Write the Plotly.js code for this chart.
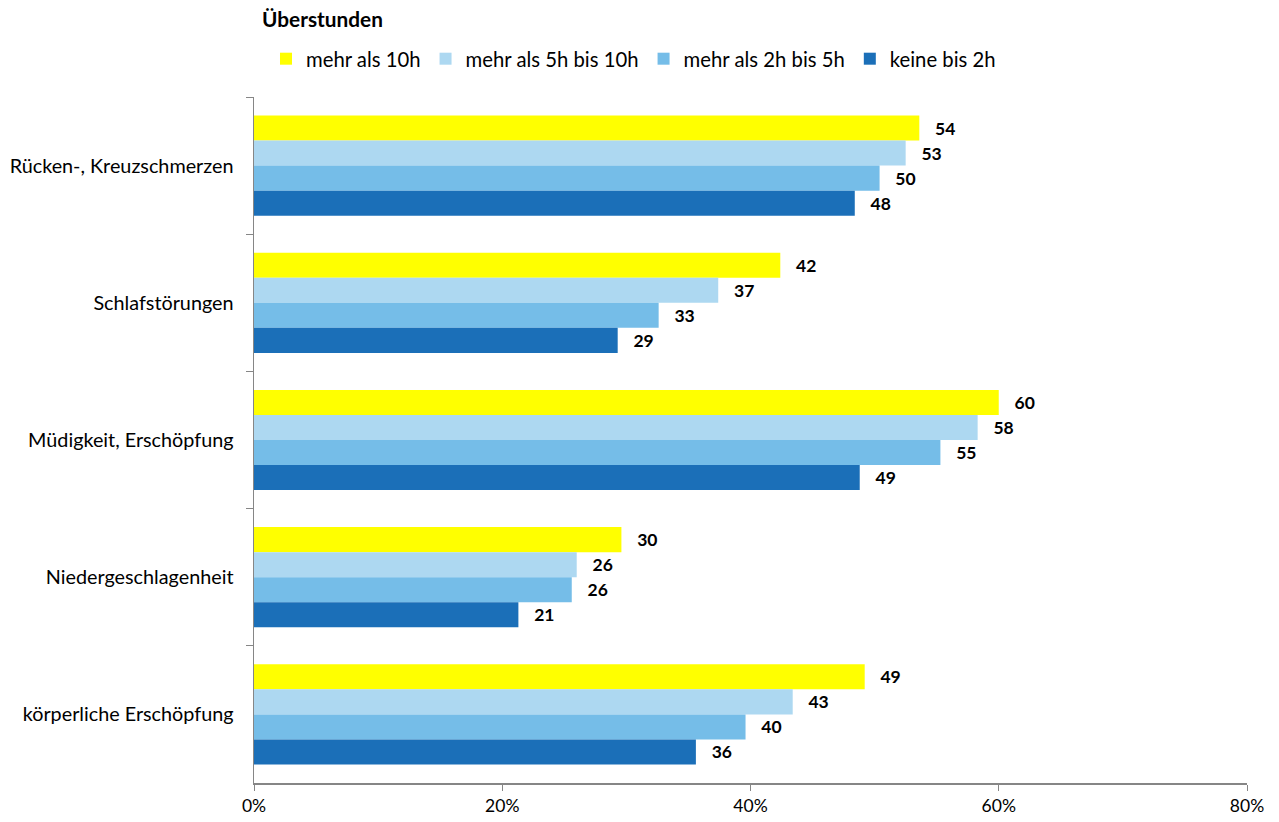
<!DOCTYPE html>
<html>
<head>
<meta charset="utf-8">
<script src="https://cdn.plot.ly/plotly-3.0.1.min.js"></script>
<style>html,body{margin:0;padding:0;background:#fff;}#chart{width:1279px;height:822px;}</style>
</head>
<body>
<div id="chart"></div>
<script>
const categories = ["Rücken-, Kreuzschmerzen", "Schlafstörungen", "Müdigkeit, Erschöpfung", "Niedergeschlagenheit", "körperliche Erschöpfung"];
const seriesNames = ["mehr als 10h", "mehr als 5h bis 10h", "mehr als 2h bis 5h", "keine bis 2h"];
const mehrAls10h = [53.6, 42.4, 60.0, 29.6, 49.2];
const mehrAls5bis10h = [52.5, 37.4, 58.3, 26.0, 43.4];
const mehrAls2bis5h = [50.4, 32.6, 55.3, 25.6, 39.6];
const keineBis2h = [48.4, 29.3, 48.8, 21.3, 35.6];
const seriesColors = ["#FFFF00", "#ADD8F1", "#75BDE8", "#1B6FB8"];
const xTickVals = [0, 20, 40, 60, 80];
const xTickText = ["0%", "20%", "40%", "60%", "80%"];

const FONT = "Lato, 'Open Sans', sans-serif";
const seriesValues = [mehrAls10h, mehrAls5bis10h, mehrAls2bis5h, keineBis2h];
const traces = seriesValues.map((vals, i) => ({
  type: "bar",
  orientation: "h",
  name: seriesNames[i],
  y: categories,
  x: vals,
  marker: {color: seriesColors[i], line: {width: 0}},
  texttemplate: "\u00a0\u00a0\u00a0%{x:.0f}",
  textposition: "outside",
  cliponaxis: false,
  textfont: {family: FONT, size: 17.5, color: "#000", weight: "bold"},
  hoverinfo: "x+name"
}));

const layout = {
  width: 1279,
  height: 822,
  paper_bgcolor: "#fff",
  plot_bgcolor: "#fff",
  margin: {l: 254, r: 32, t: 97, b: 39, pad: 0},
  barmode: "group",
  bargap: 0.27,
  bargroupgap: 0,
  font: {family: FONT, size: 17, color: "#000"},
  title: {
    text: "<b>Überstunden</b>",
    font: {family: FONT, size: 20.8, color: "#000"},
    xref: "container", x: 262 / 1279, xanchor: "left",
    yref: "container", y: 1 - 20 / 822, yanchor: "middle"
  },
  showlegend: true,
  legend: {
    orientation: "h",
    traceorder: "normal",
    xref: "container", x: 266 / 1279, xanchor: "left",
    yref: "container", y: 1 - 59 / 822, yanchor: "middle",
    font: {family: FONT, size: 20.3, color: "#000"},
    itemwidth: 30,
    bgcolor: "rgba(0,0,0,0)"
  },
  xaxis: {
    range: [0, 80],
    tickvals: xTickVals,
    ticktext: xTickText,
    showgrid: false,
    zeroline: false,
    showline: true,
    linecolor: "#868686",
    linewidth: 1.5,
    ticks: "outside",
    ticklen: 6,
    tickcolor: "#868686",
    tickfont: {family: FONT, size: 17.5, color: "#000"},
    fixedrange: true
  },
  yaxis: {
    type: "category",
    autorange: "reversed",
    showgrid: false,
    zeroline: false,
    showline: true,
    linecolor: "#868686",
    linewidth: 1.5,
    ticks: "outside",
    tickson: "boundaries",
    ticklen: 7,
    tickcolor: "#868686",
    ticklabelstandoff: 15,
    tickfont: {family: FONT, size: 19.8, color: "#000"},
    fixedrange: true
  }
};

Plotly.newPlot("chart", traces, layout, {displayModeBar: false, staticPlot: true});
</script>
</body>
</html>
